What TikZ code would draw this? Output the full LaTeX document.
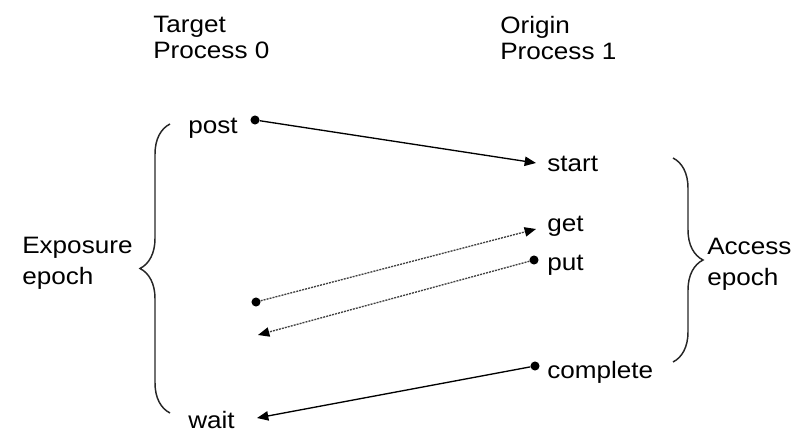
\documentclass[tikz,border=0pt]{standalone}
\usepackage{fontspec}
\setmainfont[FakeStretch=1.1]{Liberation Sans}
\usetikzlibrary{arrows.meta,positioning,decorations.pathreplacing}
\tikzset{lbl/.style={inner sep=0pt,anchor=base west,font=\fontsize{17.8}{19.5}\selectfont},
  head/.style={inner sep=0pt,anchor=north west,align=left,font=\fontsize{17.8}{19.5}\selectfont},
  side/.style={head,font=\fontsize{17.8}{23.25}\selectfont},
  dot/.style={circle,fill=black,inner sep=0pt,minimum size=6.8pt},
  msg/.style={draw=black,line width=1pt,-{Triangle[length=8.5pt,width=7pt,color=black]}},
  rma/.style={msg,draw=black!75,dash pattern=on 1.5pt off 0.8pt},
  epoch/.style={draw=black!85,line width=1.1pt,decorate,decoration={brace,amplitude=22.5pt}}}
\begin{document}
\begin{tikzpicture}[x=0.75pt,y=-0.75pt]
\useasboundingbox (0,0) rectangle (805,434);
% process headings
\node[head] (target) at (153,16) {Target\\Process 0};
\node[head] (origin) at (500,16) {Origin\\Process 1};
% events
\node[lbl] (post) at (188,134) {post};
\node[lbl] (wait) at (188,428) {wait};
\node[lbl] (start) at (547,172) {start};
\node[lbl] (get) at (547,232) {get};
\node[lbl] (put) at (547,271) {put};
\node[lbl] (complete) at (547,378) {complete};
% dots and arrow ends
\node[dot] (postdot) at (255,120) {};
\node[dot] (getdot) at (256,302) {};
\node[dot] (putdot) at (534,260) {};
\node[dot] (compdot) at (535,366) {};
\coordinate (starttip) at (536,163);
\coordinate (gettip) at (536,229);
\coordinate (puttip) at (258,335);
\coordinate (waittip) at (257,418);
\draw[msg] (postdot) -- (starttip);
\draw[rma] (getdot) -- (gettip);
\draw[rma] (putdot) -- (puttip);
\draw[msg] (compdot) -- (waittip);
% epochs
\draw[epoch] (170,413) -- (170,124);
\draw[epoch] (673,158) -- (673,362);
\node[side] (exposure) at (22,237) {Exposure\\epoch};
\node[side] (access) at (707,238) {Access\\epoch};
\end{tikzpicture}
\end{document}
